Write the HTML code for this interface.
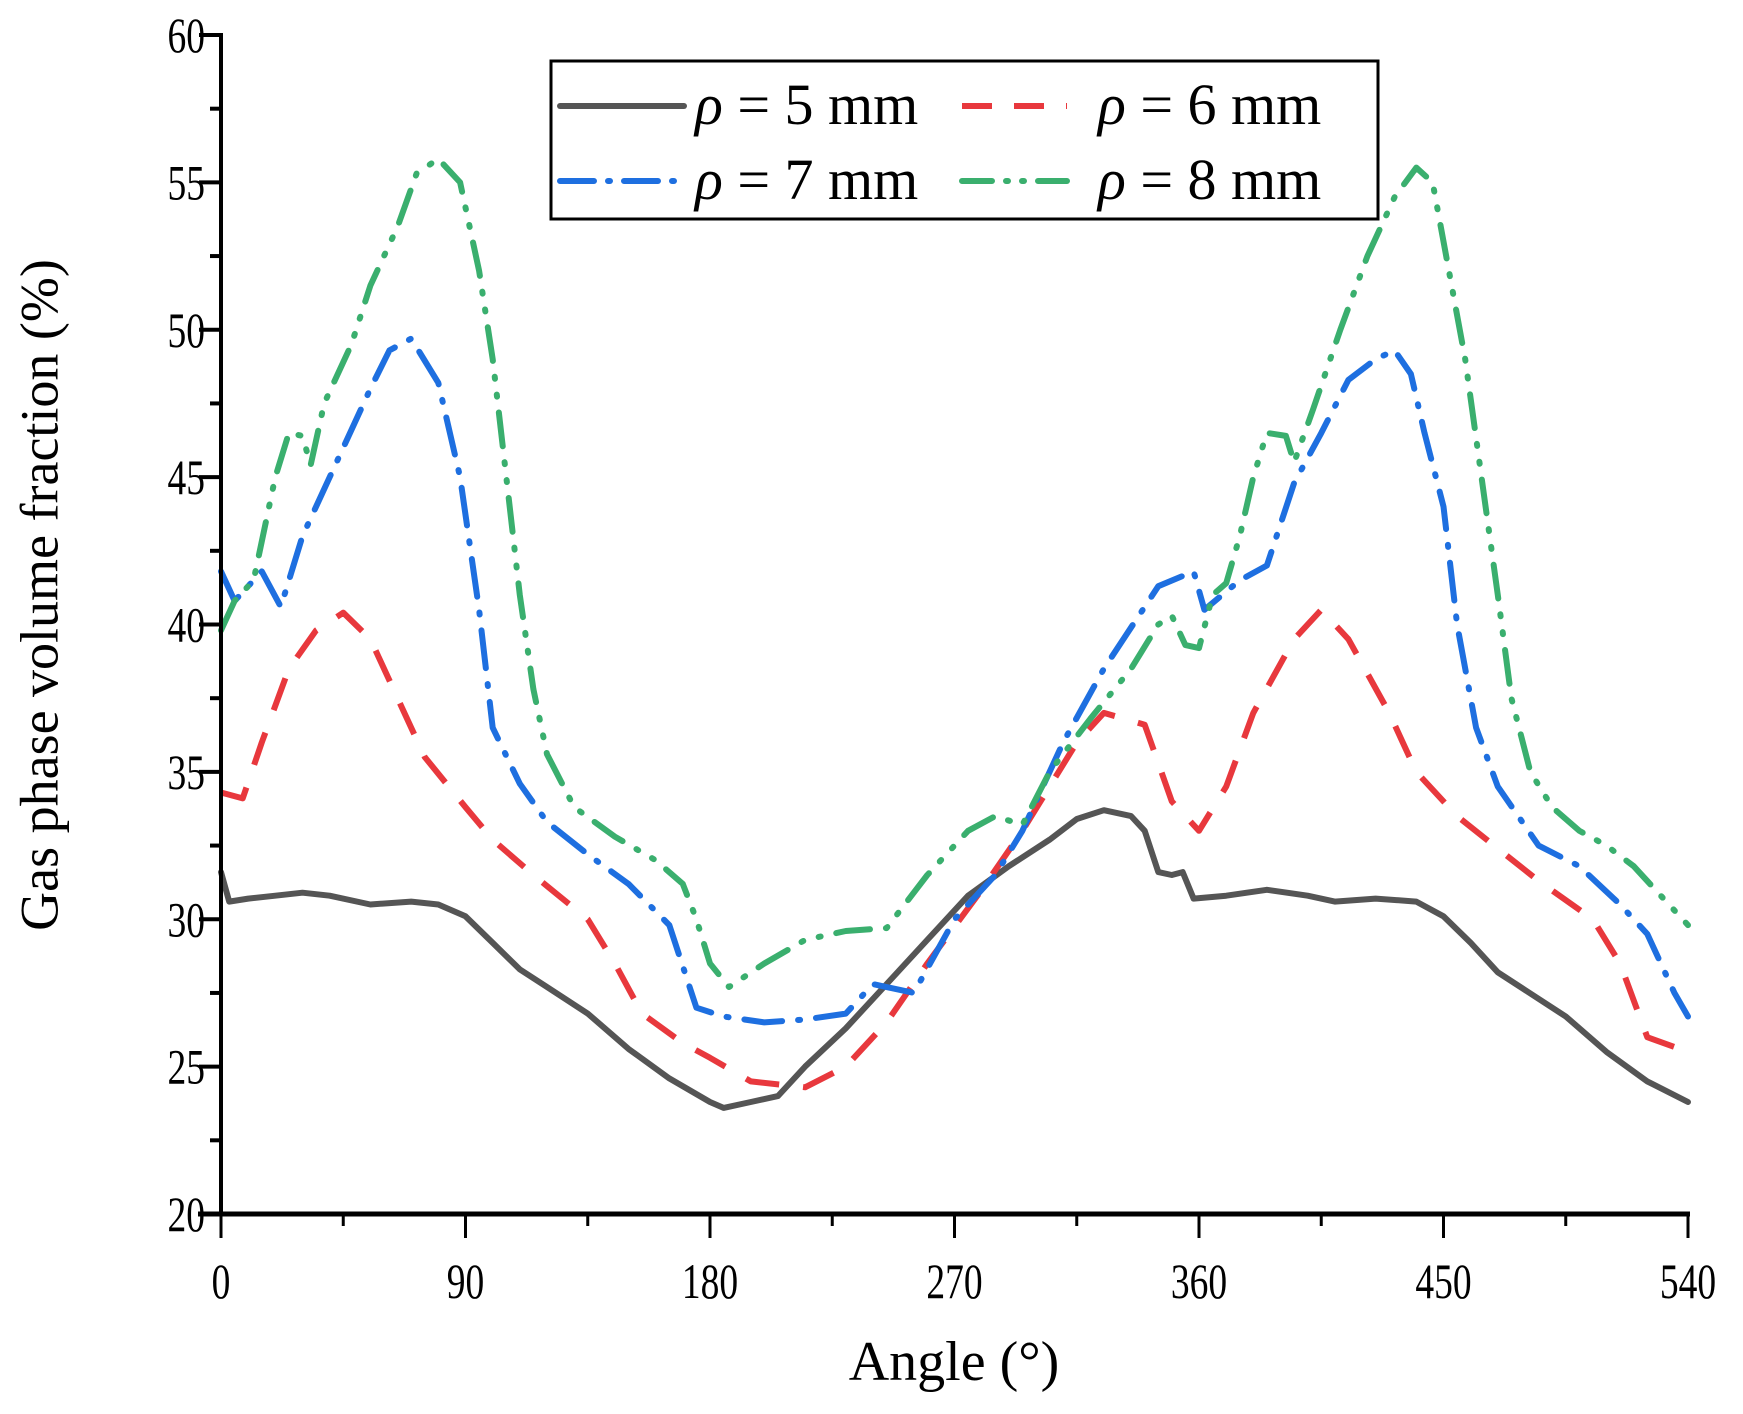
<!DOCTYPE html>
<html><head><meta charset="utf-8"><style>
html,body{margin:0;padding:0;background:#fff;}
svg{display:block;font-family:"Liberation Serif",serif;}
</style></head><body>
<svg id="s" width="1743" height="1414" viewBox="0 0 1743 1414" xmlns="http://www.w3.org/2000/svg">
<rect width="1743" height="1414" fill="#fff"/>
<g id="plot"></g>
<g id="axes"></g>
<text x="45" y="595" font-size="54" text-anchor="middle" transform="rotate(-90 45 595)" dominant-baseline="middle">Gas phase volume fraction (%)</text>
<text x="954" y="1380" font-size="56" text-anchor="middle">Angle (°)</text>
<rect x="551" y="61" width="827" height="158" fill="#fff" stroke="#000" stroke-width="3"/>
<line x1="560" y1="106" x2="684" y2="106" stroke="#555" stroke-width="6" stroke-linecap="round"/>
<line x1="962" y1="106" x2="1067" y2="106" stroke="#e8383d" stroke-width="6" stroke-dasharray="30 22"/>
<line x1="560" y1="181" x2="684" y2="181" stroke="#1e6fe0" stroke-width="6" stroke-linecap="round" stroke-dasharray="34 14 2 14"/>
<line x1="962" y1="181" x2="1067" y2="181" stroke="#3aaf6e" stroke-width="6" stroke-linecap="round" stroke-dasharray="30 14 2 14 2 14"/>
<text x="695" y="124" font-size="58"><tspan font-style="italic">ρ</tspan> = 5 mm</text>
<text x="1098" y="124" font-size="58"><tspan font-style="italic">ρ</tspan> = 6 mm</text>
<text x="695" y="199" font-size="58"><tspan font-style="italic">ρ</tspan> = 7 mm</text>
<text x="1098" y="199" font-size="58"><tspan font-style="italic">ρ</tspan> = 8 mm</text>
</svg>
<script>
const X=a=>221+a*(1688-221)/540, Y=v=>1214-(v-20)*(1214-35)/40;
const ns="http://www.w3.org/2000/svg";
function el(p,t,a){const e=document.createElementNS(ns,t);for(const k in a)e.setAttribute(k,a[k]);p.appendChild(e);return e;}
const plot=document.getElementById('plot'),axes=document.getElementById('axes');
const D={
b:[[0,31.6],[3,30.6],[10,30.7],[20,30.8],[30,30.9],[40,30.8],[55,30.5],[70,30.6],[80,30.5],[90,30.1],[100,29.2],[110,28.3],[120,27.7],[135,26.8],[150,25.6],[165,24.6],[180,23.8],[185,23.6],[195,23.8],[205,24],[215,25],[230,26.3],[245,27.8],[260,29.3],[275,30.8],[290,31.8],[305,32.7],[315,33.4],[325,33.7],[335,33.5],[340,33],[345,31.6],[350,31.5],[354,31.6],[358,30.7],[370,30.8],[385,31],[400,30.8],[410,30.6],[425,30.7],[440,30.6],[450,30.1],[460,29.2],[470,28.2],[480,27.6],[495,26.7],[510,25.5],[525,24.5],[540,23.8]],
r:[[0,34.3],[8,34.1],[15,36],[25,38.5],[35,39.8],[45,40.4],[55,39.5],[65,37.5],[75,35.5],[90,33.8],[100,32.7],[115,31.5],[135,30],[145,28.5],[155,26.8],[170,25.8],[180,25.3],[195,24.5],[215,24.3],[230,25],[245,26.5],[260,28.5],[280,31],[295,33],[305,34.5],[315,36],[325,37],[340,36.6],[350,34],[360,33],[370,34.5],[380,37],[395,39.5],[405,40.5],[415,39.5],[430,37],[440,35],[455,33.5],[470,32.4],[485,31.3],[505,30],[515,28.5],[525,26],[540,25.5]],
u:[[0,41.8],[5,40.8],[15,41.8],[22,40.6],[30,43],[45,46],[55,48],[62,49.3],[70,49.7],[80,48.2],[88,45],[95,40.5],[100,36.5],[110,34.6],[120,33.3],[135,32.2],[150,31.2],[165,29.8],[175,27],[185,26.7],[200,26.5],[215,26.6],[230,26.8],[240,27.8],[255,27.5],[270,30],[285,31.5],[295,33],[310,36],[325,38.5],[345,41.3],[358,41.8],[362,40.5],[375,41.5],[385,42],[395,44.8],[405,46.5],[415,48.3],[425,49],[432,49.3],[438,48.5],[443,46.5],[450,44],[455,40],[462,36.5],[470,34.5],[485,32.5],[500,31.8],[515,30.5],[525,29.5],[535,27.5],[540,26.7]],
g:[[0,39.8],[5,40.8],[12,41.5],[20,45],[25,46.5],[30,46.4],[33,45.4],[38,47.5],[48,49.5],[55,51.5],[65,53.5],[72,55.3],[80,55.8],[88,55],[95,52],[100,49],[105,45],[110,41],[115,37.8],[120,35.6],[130,33.8],[145,32.8],[160,32],[170,31.2],[175,30],[180,28.5],[187,27.7],[200,28.5],[215,29.3],[230,29.6],[245,29.7],[260,31.5],[275,33],[285,33.5],[295,33.2],[305,35],[320,36.8],[335,38.5],[345,40],[350,40.3],[355,39.3],[360,39.2],[365,41],[370,41.4],[375,43],[380,45],[385,46.5],[392,46.4],[395,45.5],[402,47.3],[412,50],[422,52.5],[432,54.5],[440,55.5],[446,55],[452,52],[458,49],[464,45],[470,41],[475,37.5],[482,35],[490,33.8],[500,33],[510,32.5],[520,31.8],[530,30.8],[540,29.8]]};
const S={b:['#555',''],r:['#e8383d','34 24'],u:['#1e6fe0','38 16 2 16'],g:['#3aaf6e','34 16 2 16 2 16']};
for(const k of ['b','r','u','g']){
 const d='M'+D[k].map(p=>X(p[0]).toFixed(1)+','+Y(p[1]).toFixed(1)).join('L');
 const a={d:d,fill:'none',stroke:S[k][0],'stroke-width':6,'stroke-linejoin':'round','stroke-linecap':k=='r'?'butt':'round'};
 if(S[k][1])a['stroke-dasharray']=S[k][1];
 el(plot,'path',a);
}
el(axes,'line',{x1:221,y1:33,x2:221,y2:1216,stroke:'#000','stroke-width':4});
el(axes,'line',{x1:198,y1:1214,x2:1690,y2:1214,stroke:'#000','stroke-width':5});
for(let v=20;v<=60;v+=2.5){const y=Y(v),maj=v%5==0;
 el(axes,'line',{x1:maj?199:210,y1:y,x2:221,y2:y,stroke:'#000','stroke-width':4});
 if(maj){const t=el(axes,'text',{x:0,y:0,'font-size':50,'text-anchor':'end',transform:`translate(205 ${y+17}) scale(0.75 1)`});t.textContent=v;}}
for(let a=0;a<=540;a+=45){const x=X(a),maj=a%90==0;
 el(axes,'line',{x1:x,y1:1214,x2:x,y2:maj?1238:1226,stroke:'#000','stroke-width':3});
 if(maj){const t=el(axes,'text',{x:0,y:0,'font-size':50,'text-anchor':'middle',transform:`translate(${x} 1298) scale(0.75 1)`});t.textContent=a;}}
</script>
</body></html>
